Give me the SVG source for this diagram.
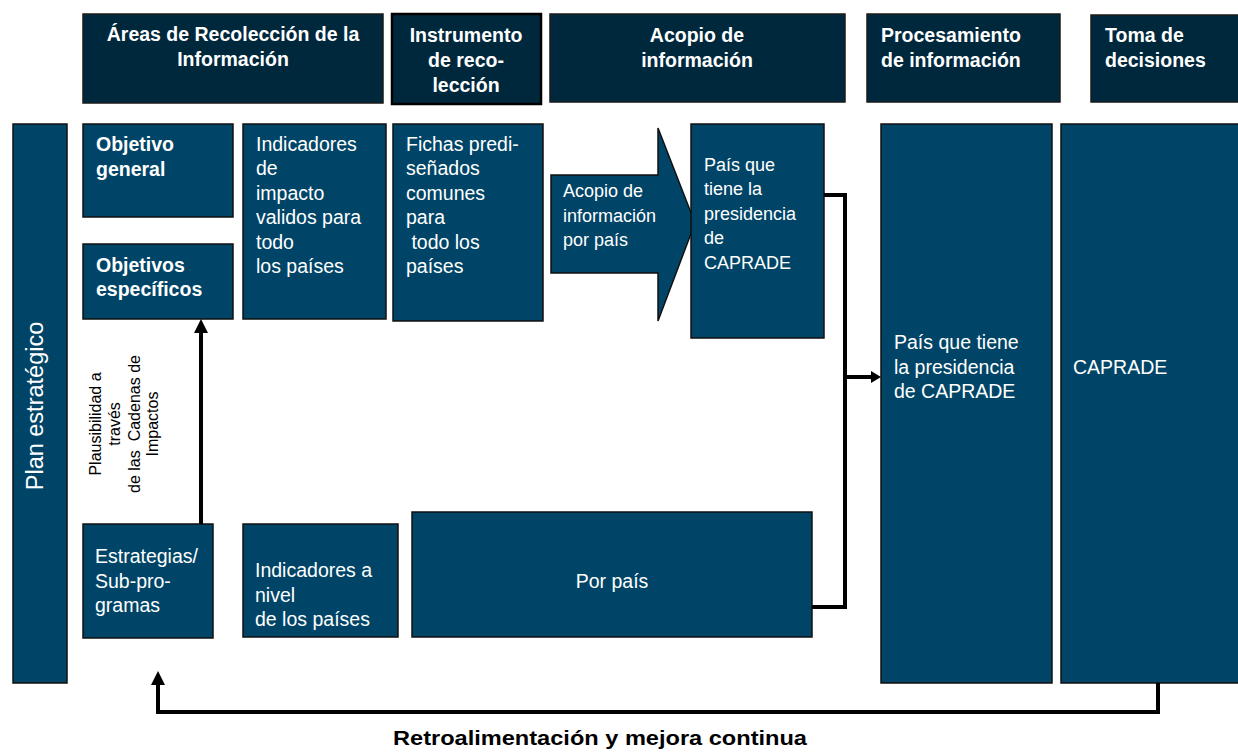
<svg xmlns="http://www.w3.org/2000/svg" width="1238" height="752" viewBox="0 0 1238 752">
<style>
.hdr{fill:#00283d;stroke:#1a1a1a;stroke-width:1.5}
.box{fill:#004567;stroke:#111;stroke-width:1.5}
.ht{font-family:"Liberation Sans",Arial,sans-serif;font-weight:bold;font-size:19.5px;fill:#fff}
.bt{font-family:"Liberation Sans",Arial,sans-serif;font-size:19.5px;fill:#fff}
.st{font-family:"Liberation Sans",Arial,sans-serif;font-size:18px;fill:#fff}
.con{fill:none;stroke:#000;stroke-width:4}
.lbl{font-family:"Liberation Sans",Arial,sans-serif;font-size:16px;fill:#000}
</style>
<defs>
<marker id="ah" markerUnits="userSpaceOnUse" markerWidth="14" markerHeight="14" refX="0" refY="7" orient="auto" viewBox="0 0 14 14">
<path d="M0,0 L14,7 L0,14 z" fill="#000"/>
</marker>
<marker id="ahs" markerUnits="userSpaceOnUse" markerWidth="10" markerHeight="12" refX="0" refY="6" orient="auto" viewBox="0 0 10 12">
<path d="M0,0 L10,6 L0,12 z" fill="#000"/>
</marker>
</defs>
<rect width="1238" height="752" fill="#fff"/>

<g id="h-areas"><rect class="hdr" x="83" y="14" width="300" height="89"/>
<text class="ht" text-anchor="middle" x="233" y="41">Áreas de Recolección de la</text>
<text class="ht" text-anchor="middle" x="233" y="66">Información</text></g>
<g id="h-instrumento"><rect class="hdr" x="392" y="14" width="149" height="90" style="stroke:#000;stroke-width:2.5"/>
<text class="ht" text-anchor="middle" x="466" y="42">Instrumento</text>
<text class="ht" text-anchor="middle" x="466" y="67">de reco-</text>
<text class="ht" text-anchor="middle" x="466" y="92">lección</text></g>
<g id="h-acopio"><rect class="hdr" x="550" y="14" width="295" height="88"/>
<text class="ht" text-anchor="middle" x="697" y="42">Acopio de</text>
<text class="ht" text-anchor="middle" x="697" y="67">información</text></g>
<g id="h-procesamiento"><rect class="hdr" x="867" y="14" width="193" height="88"/>
<text class="ht" x="881" y="42">Procesamiento</text>
<text class="ht" x="881" y="67">de información</text></g>
<g id="h-toma"><rect class="hdr" x="1091" y="15" width="150" height="87"/>
<text class="ht" x="1105" y="42">Toma de</text>
<text class="ht" x="1105" y="67">decisiones</text></g>

<g id="plan"><rect class="box" x="13" y="124" width="54" height="559"/>
<text class="bt" style="font-size:23.5px" text-anchor="middle" transform="translate(43,406) rotate(-90)">Plan estratégico</text></g>

<g id="obj-general"><rect class="box" x="83" y="124" width="150" height="93"/>
<text class="ht" x="96" y="151">Objetivo</text>
<text class="ht" x="96" y="175.5">general</text></g>
<g id="obj-especificos"><rect class="box" x="83" y="244" width="150" height="75"/>
<text class="ht" x="96" y="272">Objetivos</text>
<text class="ht" x="96" y="296">específicos</text></g>
<g id="ind-impacto"><rect class="box" x="243" y="124" width="143" height="195"/>
<text class="bt" x="256" y="150.5">Indicadores</text>
<text class="bt" x="256" y="175">de</text>
<text class="bt" x="256" y="199.5">impacto</text>
<text class="bt" x="256" y="224">validos para</text>
<text class="bt" x="256" y="248.5">todo</text>
<text class="bt" x="256" y="273">los países</text></g>
<g id="fichas"><rect class="box" x="393" y="124" width="150" height="197"/>
<text class="bt" x="406" y="150.5">Fichas predi-</text>
<text class="bt" x="406" y="175">señados</text>
<text class="bt" x="406" y="199.5">comunes</text>
<text class="bt" x="406" y="224">para</text>
<text class="bt" x="406" y="248.5" xml:space="preserve"> todo los</text>
<text class="bt" x="406" y="273">países</text></g>
<g id="acopio-arrow"><polygon class="box" points="551,175 658,175 658,128 695,223 658,321 658,273 551,273"/>
<text class="st" x="563" y="197">Acopio de</text>
<text class="st" x="563" y="221.5">información</text>
<text class="st" x="563" y="246">por país</text></g>
<g id="pais-presidencia"><rect class="box" x="691" y="124" width="133" height="214"/>
<text class="st" x="704" y="170.5">País que</text>
<text class="st" x="704" y="195">tiene la</text>
<text class="st" x="704" y="219.5">presidencia</text>
<text class="st" x="704" y="244">de</text>
<text class="st" x="704" y="268.5">CAPRADE</text></g>
<g id="procesamiento"><rect class="box" x="881" y="124" width="171" height="559"/>
<text class="bt" x="894" y="349">País que tiene</text>
<text class="bt" x="894" y="373.5">la presidencia</text>
<text class="bt" x="894" y="398">de CAPRADE</text></g>
<g id="toma"><rect class="box" x="1061" y="124" width="180" height="559"/>
<text class="bt" x="1073" y="374">CAPRADE</text></g>

<g id="estrategias"><rect class="box" x="83" y="524" width="130" height="114"/>
<text class="bt" x="95" y="563">Estrategias/</text>
<text class="bt" x="95" y="587.5">Sub-pro-</text>
<text class="bt" x="95" y="612">gramas</text></g>
<g id="ind-nivel"><rect class="box" x="243" y="524" width="155" height="113"/>
<text class="bt" x="255" y="577">Indicadores a</text>
<text class="bt" x="255" y="601.5">nivel</text>
<text class="bt" x="255" y="626">de los países</text></g>
<g id="por-pais"><rect class="box" x="412" y="512" width="400" height="125"/>
<text class="bt" text-anchor="middle" x="612" y="588">Por país</text></g>

<g id="plausibilidad">
<text class="lbl" text-anchor="middle" transform="translate(101,424) rotate(-90)">Plausibilidad a</text>
<text class="lbl" text-anchor="middle" transform="translate(120,424) rotate(-90)">través</text>
<text class="lbl" text-anchor="middle" transform="translate(140,424) rotate(-90)" xml:space="preserve">de las  Cadenas de</text>
<text class="lbl" text-anchor="middle" transform="translate(158,424) rotate(-90)">Impactos</text>
</g>

<g id="connectors">
<path class="con" d="M201,524 V333" marker-end="url(#ah)"/>
<path class="con" d="M824,195 H845 V607 H812"/>
<path class="con" d="M845,377 H871" marker-end="url(#ahs)"/>
<path class="con" d="M1158,683 V712 H158 V685" marker-end="url(#ah)"/>
</g>

<text id="feedback" font-family="Liberation Sans, Arial, sans-serif" font-weight="bold" font-size="21px" fill="#000" text-anchor="middle" x="600" y="745" textLength="414" lengthAdjust="spacingAndGlyphs">Retroalimentación y mejora continua</text>
</svg>
